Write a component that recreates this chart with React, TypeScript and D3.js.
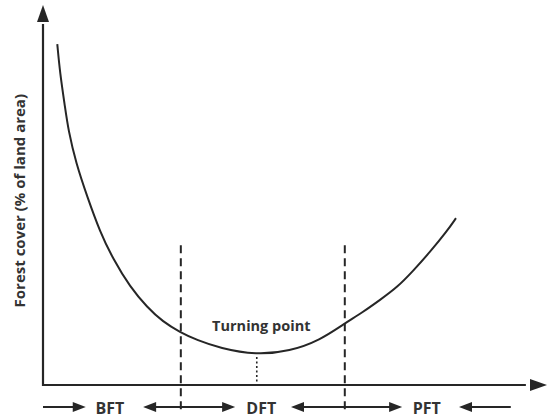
import React, { useEffect, useRef } from "react";
import * as d3 from "d3";

// Curve points (x = development stage, y = forest cover)
const curveX = [2.84, 3.38, 4.37, 5.03, 6.56, 8.81, 11.33, 13.92, 17.3, 20.68, 23.86, 27.24, 30.62, 35.19, 42.35, 49.1, 55.07, 59.84, 63.62, 67.0, 70.38, 73.56, 76.94, 80.32, 82.1];
const curveY = [89.7, 82.1, 73.2, 67.1, 58.4, 49.5, 40.3, 33.2, 25.8, 20.5, 16.6, 13.9, 11.8, 9.7, 7.9, 8.9, 11.8, 16.1, 19.2, 22.4, 25.66, 30.0, 35.0, 40.5, 43.9];

// Phase boundaries and turning point
const boundaries = [27.4, 60.0];
const turningX = 42.5;
const turningY = 7.9;

// Phase labels
const phaseLabels = ["BFT", "DFT", "PFT"];
const phaseLabelX = [13.3, 43.4, 76.3];

// Bottom arrows: [start, end, headAtStart, headAtEnd]
const arrowStart = [0, 19.9, 49.3, 82.7];
const arrowEnd = [8.5, 38.2, 71.4, 93.0];
const headStart = [false, true, true, true];
const headEnd = [true, true, true, false];

const yLabel = "Forest cover (% of land area)";
const turningLabel = "Turning point";

export default function App() {
  const ref = useRef<SVGSVGElement | null>(null);

  useEffect(() => {
    const svg = d3.select(ref.current);
    svg.selectAll("*").remove();
    const W = 550, H = 420;
    const x = d3.scaleLinear().domain([0, 100]).range([43, 546]);
    const y = d3.scaleLinear().domain([0, 100]).range([385, 5]);
    const ink = "#262626";
    const font = "'Open Sans', 'Segoe UI', sans-serif";

    svg.append("rect").attr("width", W).attr("height", H).attr("fill", "#fff");

    // Axes
    svg.append("line").attr("x1", x(0)).attr("x2", x(0)).attr("y1", y(0) + 1).attr("y2", y(95))
      .attr("stroke", ink).attr("stroke-width", 2.2);
    svg.append("path")
      .attr("d", `M${x(0)},${y(100)} L${x(0) - 6},${y(100) + 17} L${x(0) + 6},${y(100) + 17} Z`)
      .attr("fill", ink);
    svg.append("line").attr("x1", x(0) - 1).attr("x2", x(96)).attr("y1", y(0)).attr("y2", y(0))
      .attr("stroke", ink).attr("stroke-width", 2.2);
    svg.append("path")
      .attr("d", `M${x(100) + 1},${y(0)} L${x(100) - 16},${y(0) - 6} L${x(100) - 16},${y(0) + 6} Z`)
      .attr("fill", ink);

    // Boundaries (dashed)
    boundaries.forEach((b) => {
      svg.append("line").attr("x1", x(b)).attr("x2", x(b)).attr("y1", y(36.8)).attr("y2", y(-6.8))
        .attr("stroke", ink).attr("stroke-width", 2).attr("stroke-dasharray", "8,5");
    });

    // Turning point dotted line
    svg.append("line").attr("x1", x(turningX)).attr("x2", x(turningX)).attr("y1", y(turningY) + 2).attr("y2", y(0))
      .attr("stroke", ink).attr("stroke-width", 1.6).attr("stroke-dasharray", "2,2.5");

    // Curve
    const pts = curveX.map((v, i) => [v, curveY[i]] as [number, number]);
    const line = d3.line<[number, number]>().x((d) => x(d[0])).y((d) => y(d[1])).curve(d3.curveBasis);
    svg.append("path").attr("d", line(pts)).attr("fill", "none").attr("stroke", ink).attr("stroke-width", 2);

    // Turning point label
    svg.append("text").attr("x", x(43.4)).attr("y", 331).attr("text-anchor", "middle")
      .attr("font-family", font).attr("font-weight", "bold").attr("font-size", 14.5).attr("fill", "#333")
      .text(turningLabel);

    // Y label
    svg.append("text").attr("transform", `translate(25,${y(48.5)}) rotate(-90)`).attr("text-anchor", "middle")
      .attr("font-family", font).attr("font-weight", "bold").attr("font-size", 15).attr("fill", "#333")
      .text(yLabel);

    // Bottom arrows
    const ay = 407;
    arrowStart.forEach((s, i) => {
      const x1 = x(s), x2 = x(arrowEnd[i]);
      svg.append("line").attr("x1", x1 + (headStart[i] ? 8 : 0)).attr("x2", x2 - (headEnd[i] ? 8 : 0))
        .attr("y1", ay).attr("y2", ay).attr("stroke", ink).attr("stroke-width", 2);
      if (headEnd[i]) {
        svg.append("path").attr("d", `M${x2},${ay} L${x2 - 13},${ay - 5} L${x2 - 13},${ay + 5} Z`).attr("fill", ink);
      }
      if (headStart[i]) {
        svg.append("path").attr("d", `M${x1},${ay} L${x1 + 13},${ay - 5} L${x1 + 13},${ay + 5} Z`).attr("fill", ink);
      }
    });

    phaseLabels.forEach((p, i) => {
      svg.append("text").attr("x", x(phaseLabelX[i])).attr("y", 414).attr("text-anchor", "middle")
        .attr("font-family", font).attr("font-weight", "bold").attr("font-size", 16).attr("fill", "#333")
        .text(p);
    });
  }, []);

  return (
    <svg ref={ref} width={550} height={420}
      style={{ position: "absolute", left: 0, top: 0, display: "block" }} />
  );
}
